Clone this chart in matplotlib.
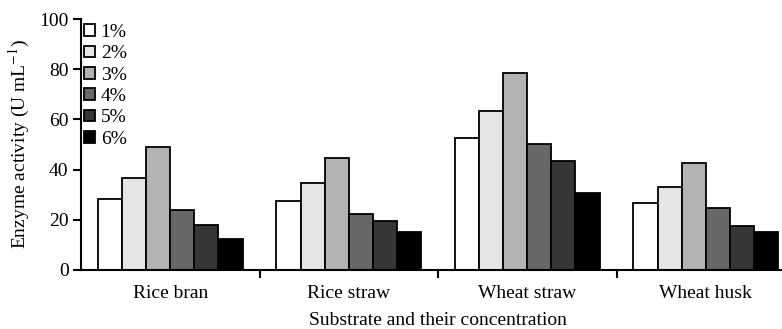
import matplotlib
matplotlib.use("Agg")
import matplotlib.pyplot as plt
import numpy as np

plt.rcParams['font.family'] = ['Liberation Serif', 'DejaVu Serif']
plt.rcParams['mathtext.fontset'] = 'stix'

categories = ["Rice bran", "Rice straw", "Wheat straw", "Wheat husk"]
concentrations = ["1%", "2%", "3%", "4%", "5%", "6%"]
values = {
    "1%": [28.2, 27.3, 52.7, 26.5],
    "2%": [36.7, 34.7, 63.3, 33.1],
    "3%": [49.0, 44.8, 78.3, 42.5],
    "4%": [24.1, 22.5, 50.1, 24.8],
    "5%": [17.9, 19.6, 43.4, 17.5],
    "6%": [12.4, 15.1, 30.6, 15.2],
}
colors = ["#ffffff", "#e5e5e5", "#b3b3b3", "#676767", "#363636", "#000000"]

fig = plt.figure(figsize=(7.82, 3.29), dpi=100)
ax = fig.add_axes([81/782, 59/329, 714/782, 251/329])

x = np.arange(len(categories))
n = len(concentrations)
bw = 0.81 / n
for i, c in enumerate(concentrations):
    ax.bar(x + (i - (n - 1) / 2) * bw, values[c], width=bw, color=colors[i],
           edgecolor="black", linewidth=1.3, label=c, zorder=2)

ax.set_xlim(-0.5, 3.5)
ax.set_ylim(0, 100)
ax.set_yticks([0, 20, 40, 60, 80, 100])
ax.set_xticks(x)
ax.set_xticklabels(categories, fontsize=14)
ax.set_xticks([0.5, 1.5, 2.5], minor=True)
ax.tick_params(axis='x', which='major', length=0, pad=11)
ax.tick_params(axis='x', which='minor', length=6, width=1.5, direction='out')
ax.tick_params(axis='y', length=6, width=1.5, labelsize=14, pad=3)
for s in ["top", "right"]:
    ax.spines[s].set_visible(False)
for s in ["left", "bottom"]:
    ax.spines[s].set_linewidth(1.5)

ax.set_xlabel("Substrate and their concentration", fontsize=14, labelpad=7)
ax.set_ylabel("Enzyme activity (U mL$^{-1}$)", fontsize=14, labelpad=5)

leg = ax.legend(loc="upper left", bbox_to_anchor=(-0.012, 1.026), frameon=False,
                fontsize=14, handlelength=0.55, handleheight=0.55,
                handletextpad=0.3, labelspacing=0.22, borderaxespad=0.2)

fig.savefig("out.png", dpi=100)
